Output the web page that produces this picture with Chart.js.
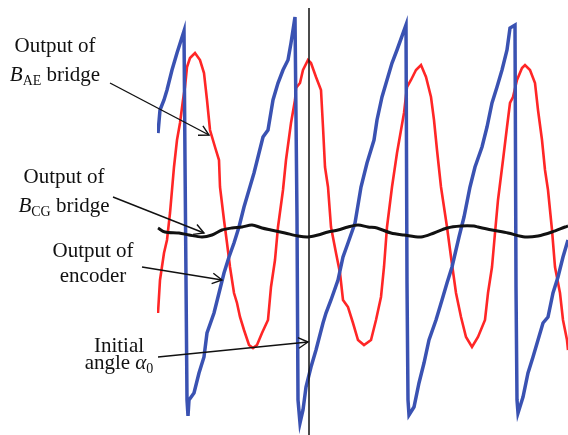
<!DOCTYPE html>
<html>
<head>
<meta charset="utf-8">
<script src="https://cdn.jsdelivr.net/npm/chart.js@4/dist/chart.umd.min.js"></script>
<style>
  html, body { margin: 0; padding: 0; background: #fff; }
  #wrap { width: 568px; height: 435px; position: relative; }
</style>
</head>
<body>
<div id="wrap"><canvas id="c"></canvas></div>
<script>
// Recorded signals: [sample, level]
const encoderOutput = [
  [1,302],[3,325],[7,335],[10,345],[15,365],[20,382],[27,404],[28,275],[30,35],[31,19],
  [32,35],[37,42],[42,62],[47,78],[50,102],[57,122],[62,142],[67,162],[72,178],[77,192],
  [82,208],[87,228],[92,245],[97,262],[102,282],[106,298],[111,305],[116,335],[121,352],
  [126,365],[131,375],[134,392],[138,418],[140,217],[141,35],[143,12],[146,25],[149,48],
  [154,68],[159,85],[166,112],[169,122],[174,135],[181,155],[186,178],[191,192],[198,212],
  [204,248],[210,272],[217,295],[220,315],[225,338],[230,355],[235,372],[240,385],[249,410],
  [250,152],[251,35],[252,20],[257,28],[262,52],[267,72],[272,95],[279,115],[285,135],
  [290,152],[295,168],[302,198],[307,218],[313,248],[318,268],[325,288],[330,308],[335,332],
  [340,348],[345,365],[350,385],[353,407],[358,410],[359,148],[360,35],[361,22],[366,38],
  [371,62],[376,78],[381,95],[386,112],[391,118],[396,142],[401,158],[406,178],[411,195]
];
const bridgeAE = [
  [1,122],[3,155],[7,182],[10,195],[13,222],[17,268],[20,295],[23,312],[26,335],[28,348],
  [30,368],[33,377],[38,382],[43,375],[47,362],[50,335],[53,305],[58,288],[62,275],[63,248],
  [67,215],[70,192],[73,168],[77,142],[80,132],[83,118],[87,105],[92,90],[96,87],[100,90],
  [105,102],[111,115],[114,148],[118,175],[121,208],[126,245],[129,275],[134,312],[138,335],
  [139,347],[143,352],[146,365],[151,375],[154,372],[159,358],[164,345],[166,308],[168,268],
  [171,248],[174,208],[179,182],[183,162],[186,135],[191,128],[196,112],[201,95],[207,90],
  [214,95],[219,115],[224,138],[227,168],[230,208],[235,248],[240,282],[247,322],[250,348],
  [254,355],[259,365],[264,370],[269,358],[274,338],[277,315],[280,285],[284,248],[287,228],
  [290,208],[294,178],[299,142],[304,118],[309,98],[315,88],[321,98],[328,115],[331,142],
  [335,168],[338,202],[341,235],[346,275],[350,308],[353,332],[356,338],[360,355],[365,367],
  [368,370],[373,365],[378,352],[381,325],[385,295],[388,265],[391,245],[395,205],[398,168],
  [403,142],[406,115],[410,95],[411,85]
];
const bridgeCG = [
  [1,207],[8,203],[22,202],[32,200],[45,198],[55,200],[65,205],[75,207],[85,208],[95,210],
  [105,207],[114,205],[128,202],[141,199],[151,198],[161,200],[171,203],[181,205],[191,208],
  [201,210],[211,208],[220,207],[234,202],[247,200],[264,198],[277,202],[290,207],[304,209],
  [317,209],[321,208],[335,205],[351,202],[368,198],[381,199],[395,203],[408,208],[411,209]
];
const initialAngleSample = 152;
const markerLevels = [427, 0];

const toPts = a => a.map(([x, y]) => ({ x, y }));

// Callout labels: text lines, centre x, baselines, arrow tail (px) and tip (data)
const callouts = [
  { lines: [[['Output of', 'n']], [['B', 'i'], ['AE', 's'], [' bridge', 'n']]],
    cx: 55, base: [52, 81], tail: [110, 83], tip: [52, 300] },
  { lines: [[['Output of', 'n']], [['B', 'i'], ['CG', 's'], [' bridge', 'n']]],
    cx: 64, base: [183, 212], tail: [113, 197], tip: [47, 202] },
  { lines: [[['Output of', 'n']], [['encoder', 'n']]],
    cx: 93, base: [257, 282], tail: [142, 267], tip: [65, 155] },
  { lines: [[['Initial', 'n']], [['angle ', 'n'], ['\u03B1', 'i'], ['0', 's']]],
    cx: 119, base: [352, 369], tail: [158, 357], tip: [151, 93] }
];

const FAMILY = '"Liberation Serif", "DejaVu Serif", serif';
const fontFor = k => k === 'i' ? `italic 21px ${FAMILY}` : k === 's' ? `14px ${FAMILY}` : `21px ${FAMILY}`;

const calloutPlugin = {
  id: 'callouts',
  afterDraw(chart) {
    const ctx = chart.ctx;
    const xs = chart.scales.x, ys = chart.scales.y;
    ctx.save();
    ctx.fillStyle = '#111';
    ctx.textBaseline = 'alphabetic';
    ctx.textAlign = 'left';
    callouts.forEach(c => {
      c.lines.forEach((runs, i) => {
        let w = 0;
        runs.forEach(([t, k]) => { ctx.font = fontFor(k); w += ctx.measureText(t).width; });
        let x = c.cx - w / 2;
        runs.forEach(([t, k]) => {
          ctx.font = fontFor(k);
          ctx.fillText(t, x, c.base[i] + (k === 's' ? 4 : 0));
          x += ctx.measureText(t).width;
        });
      });
      const x0 = c.tail[0], y0 = c.tail[1];
      const x1 = xs.getPixelForValue(c.tip[0]), y1 = ys.getPixelForValue(c.tip[1]);
      const ang = Math.atan2(y1 - y0, x1 - x0);
      ctx.strokeStyle = '#111';
      ctx.lineWidth = 1.4;
      ctx.beginPath();
      ctx.moveTo(x0, y0);
      ctx.lineTo(x1, y1);
      ctx.stroke();
      const L = 11, s = 0.5;
      ctx.beginPath();
      ctx.moveTo(x1 - L * Math.cos(ang - s), y1 - L * Math.sin(ang - s));
      ctx.lineTo(x1, y1);
      ctx.lineTo(x1 - L * Math.cos(ang + s), y1 - L * Math.sin(ang + s));
      ctx.stroke();
    });
    ctx.restore();
  }
};

new Chart(document.getElementById('c'), {
  type: 'scatter',
  data: {
    datasets: [
      { label: 'Initial angle', data: markerLevels.map(y => ({ x: initialAngleSample, y })),
        borderColor: '#111', borderWidth: 1.5, showLine: true, pointRadius: 0, order: 0 },
      { label: 'Output of B_CG bridge', data: toPts(bridgeCG),
        borderColor: '#111', borderWidth: 3, showLine: true, pointRadius: 0, tension: 0.3, order: 1 },
      { label: 'Output of encoder', data: toPts(encoderOutput),
        borderColor: '#3a52b2', borderWidth: 3.5, showLine: true, pointRadius: 0, order: 2 },
      { label: 'Output of B_AE bridge', data: toPts(bridgeAE),
        borderColor: '#ff2626', borderWidth: 2.6, showLine: true, pointRadius: 0, order: 3 }
    ]
  },
  options: {
    responsive: true,
    maintainAspectRatio: false,
    animation: false,
    layout: { padding: { left: 157, right: 0, top: 0, bottom: 0 } },
    plugins: { legend: { display: false }, tooltip: { enabled: false } },
    scales: {
      x: { type: 'linear', min: 0, max: 411, display: false },
      y: { type: 'linear', min: 0, max: 435, display: false }
    }
  },
  plugins: [calloutPlugin]
});
</script>
</body>
</html>
